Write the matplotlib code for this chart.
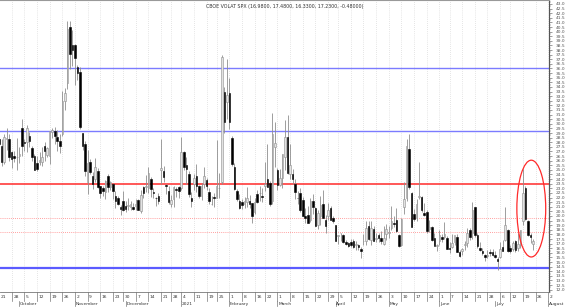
import numpy as np
import pandas as pd
import matplotlib
matplotlib.use('Agg')
import matplotlib.pyplot as plt
from matplotlib.patches import Ellipse

# trading days (weekends and market holidays skipped)
holidays = ['2020-11-26', '2020-12-25', '2021-01-01', '2021-01-18',
            '2021-02-15', '2021-04-02', '2021-05-31', '2021-07-05']
dates = [d for d in pd.bdate_range('2020-09-21', '2021-07-23')
         if d.strftime('%Y-%m-%d') not in holidays]
# empty weeks shown at the right end of the axis
extra_weeks = ['2021-07-26', '2021-08-02']

# daily OHLC
opens = [28.4, 27.6, 25.9, 28.4, 28.4, 26.9, 26.5, 26.4, 26.5, 29.5,
         28.0, 28.0, 28.7, 27.4, 26.5, 25.7, 25.9, 25.8, 27.6, 26.6,
         26.5, 29.1, 29.2, 28.6, 28.1, 28.9, 32.5, 34.4, 40.5, 38.5,
         38.5, 36.2, 35.6, 29.0, 27.8, 23.7, 25.9, 24.3, 24.0, 24.9,
         23.3, 23.0, 22.6, 24.3, 23.1, 23.5, 22.2, 21.9, 21.0, 21.6,
         21.1, 21.1, 21.0, 21.0, 21.1, 21.7, 20.5, 23.1, 23.1, 23.0,
         24.0, 22.6, 22.0, 22.2, 25.0, 24.9, 23.4, 22.7, 21.3, 21.8,
         22.9, 23.1, 23.0, 26.9, 25.5, 24.6, 22.0, 23.5, 24.3, 23.3,
         22.2, 23.5, 23.9, 22.6, 21.3, 22.1, 22.0, 23.0, 23.7, 33.5,
         32.4, 33.3, 28.5, 25.3, 22.7, 21.6, 21.5, 21.3, 21.5, 21.6,
         21.4, 20.4, 22.4, 22.5, 22.2, 23.3, 24.0, 23.6, 21.6, 27.5,
         25.0, 23.4, 24.1, 26.4, 28.6, 24.5, 24.5, 23.5, 22.0, 22.5,
         21.7, 20.0, 20.1, 19.6, 21.6, 20.9, 19.0, 20.0, 21.3, 19.6,
         20.0, 20.9, 19.8, 19.0, 17.8, 18.1, 17.9, 17.2, 17.1, 17.2,
         17.3, 16.9, 16.8, 16.4, 17.3, 17.3, 18.9, 17.4, 18.6, 17.5,
         17.9, 17.6, 17.0, 18.0, 18.1, 18.7, 19.2, 19.6, 17.9, 16.9,
         21.0, 22.0, 27.3, 22.5, 20.2, 19.8, 22.1, 22.1, 20.3, 20.4,
         18.6, 18.8, 17.6, 16.7, 17.3, 17.7, 17.7, 17.6, 16.5, 16.6,
         17.2, 17.7, 16.1, 16.2, 16.8, 17.1, 18.5, 18.1, 21.0, 17.9,
         16.5, 16.2, 15.8, 15.7, 16.1, 16.1, 15.8, 15.3, 15.5, 16.6,
         17.4, 18.5, 16.5, 16.4, 17.3, 16.5, 16.8, 19.5, 23.0, 19.5,
         17.9, 16.98]
highs = [31.6, 28.3, 28.9, 29.5, 28.9, 27.0, 27.0, 28.5, 27.5, 30.5,
         28.3, 29.9, 29.1, 27.6, 26.7, 26.5, 26.9, 27.5, 28.0, 27.5,
         29.2, 29.5, 29.6, 29.3, 28.9, 33.6, 33.9, 41.2, 41.1, 40.2,
         38.7, 36.4, 36.2, 29.0, 28.1, 27.2, 26.2, 24.8, 26.3, 25.2,
         23.3, 23.3, 23.9, 24.6, 23.8, 23.6, 22.7, 22.2, 21.2, 22.7,
         21.6, 22.0, 21.6, 21.4, 21.8, 21.8, 22.8, 23.2, 24.4, 25.3,
         24.2, 23.0, 22.1, 22.5, 28.4, 25.4, 23.5, 23.3, 22.3, 23.3,
         23.1, 23.2, 28.6, 27.1, 26.4, 24.9, 22.6, 24.6, 25.6, 23.4,
         23.6, 25.3, 24.1, 23.0, 22.2, 22.5, 28.2, 24.7, 37.5, 34.0,
         37.0, 35.0, 28.7, 25.7, 22.9, 22.4, 21.8, 22.1, 23.1, 22.3,
         21.4, 22.0, 22.8, 23.3, 23.0, 25.9, 27.8, 23.8, 31.2, 30.2,
         25.2, 25.1, 26.7, 30.4, 31.0, 27.8, 25.1, 24.0, 22.7, 23.0,
         22.1, 20.9, 21.1, 22.0, 22.4, 21.0, 20.7, 22.2, 22.8, 20.1,
         21.4, 21.1, 20.0, 19.0, 17.9, 18.2, 18.0, 17.4, 17.2, 17.5,
         17.5, 17.3, 17.0, 16.6, 18.0, 19.4, 19.4, 19.4, 18.9, 18.2,
         18.1, 18.4, 18.9, 19.1, 18.9, 21.1, 20.0, 20.9, 18.0, 19.8,
         23.7, 28.4, 28.9, 22.6, 20.8, 21.8, 25.9, 22.2, 21.4, 20.6,
         19.6, 18.9, 18.2, 17.0, 18.5, 18.0, 19.3, 17.8, 17.2, 18.0,
         17.7, 18.0, 16.3, 16.5, 17.3, 18.7, 18.7, 21.5, 21.0, 18.1,
         17.2, 16.5, 15.9, 16.3, 16.4, 16.4, 16.2, 15.5, 17.2, 17.4,
         21.0, 18.6, 16.9, 17.3, 17.4, 18.1, 18.5, 25.1, 23.2, 19.6,
         18.1, 17.48]
lows = [27.5, 25.4, 25.6, 27.2, 26.0, 25.2, 25.9, 25.0, 25.7, 26.5,
        27.0, 26.9, 27.5, 26.0, 25.0, 24.9, 25.5, 25.4, 26.0, 26.4,
        25.6, 28.5, 27.8, 27.0, 26.8, 28.7, 31.5, 33.8, 35.9, 36.3,
        34.2, 34.8, 29.4, 27.2, 24.3, 22.4, 24.6, 22.9, 23.7, 23.0,
        21.9, 22.2, 21.8, 22.6, 22.8, 21.8, 20.9, 21.2, 20.1, 20.5,
        20.4, 20.6, 20.6, 20.6, 20.6, 20.6, 20.3, 22.0, 22.6, 22.5,
        22.1, 22.0, 21.1, 21.3, 23.5, 23.7, 22.4, 21.3, 21.0, 21.0,
        22.1, 22.0, 22.8, 25.0, 23.5, 22.1, 21.0, 22.8, 22.6, 22.0,
        21.7, 23.0, 22.8, 21.3, 21.2, 21.0, 22.0, 22.0, 23.5, 29.0,
        30.5, 29.4, 25.4, 22.8, 21.6, 20.8, 20.8, 20.9, 21.0, 20.9,
        19.2, 20.2, 21.4, 21.6, 21.5, 22.7, 23.1, 21.1, 21.3, 25.3,
        22.8, 23.2, 23.0, 25.0, 24.5, 24.0, 23.5, 21.8, 21.3, 20.4,
        20.0, 19.2, 19.2, 19.3, 20.2, 18.9, 18.6, 19.0, 19.8, 18.1,
        19.6, 19.6, 19.2, 17.3, 17.0, 17.3, 17.1, 16.9, 16.6, 16.6,
        16.5, 16.3, 16.3, 15.4, 16.9, 16.9, 17.4, 16.8, 17.3, 17.2,
        17.2, 17.0, 16.8, 17.4, 17.6, 18.5, 18.8, 18.3, 16.6, 16.7,
        20.2, 21.6, 22.9, 18.8, 19.5, 19.4, 21.8, 20.4, 20.0, 18.2,
        18.3, 17.3, 16.9, 16.2, 16.9, 17.2, 17.5, 16.4, 16.0, 16.5,
        16.8, 16.1, 15.6, 15.8, 16.3, 16.6, 17.4, 17.5, 17.7, 16.5,
        16.2, 15.8, 15.1, 15.4, 15.7, 15.7, 15.4, 14.1, 15.4, 16.2,
        17.3, 16.1, 16.0, 16.2, 16.1, 16.2, 16.5, 19.0, 19.6, 17.8,
        17.1, 16.33]
closes = [27.8, 25.8, 28.6, 28.5, 26.4, 26.2, 26.3, 26.4, 26.7, 27.6,
          27.96, 29.5, 28.1, 26.4, 25.0, 25.1, 26.1, 26.4, 27.0, 27.4,
          29.2, 29.35, 28.65, 28.1, 27.55, 32.5, 33.35, 40.3, 37.6, 38.0,
          37.1, 35.55, 29.6, 27.6, 24.9, 25.75, 24.8, 23.45, 25.35, 23.1,
          22.45, 22.7, 23.8, 23.1, 23.7, 22.7, 21.6, 21.25, 20.8, 20.6,
          20.8, 21.2, 21.3, 20.8, 21.3, 20.7, 22.3, 22.5, 23.3, 24.7,
          22.9, 22.5, 21.9, 21.6, 25.2, 24.2, 23.3, 21.5, 21.7, 23.1,
          22.8, 22.75, 26.97, 25.3, 25.1, 22.4, 21.6, 24.1, 23.3, 22.2,
          23.25, 24.3, 23.2, 21.6, 21.3, 21.9, 23.2, 23.0, 37.2, 30.2,
          33.1, 30.2, 25.6, 22.9, 21.8, 20.9, 21.2, 21.6, 22.0, 21.25,
          20.0, 21.5, 21.5, 22.5, 22.05, 23.45, 23.1, 21.3, 28.9, 27.95,
          23.35, 24.1, 26.7, 28.6, 24.7, 25.5, 24.0, 22.6, 21.9, 20.7,
          20.0, 19.8, 19.2, 21.6, 20.95, 18.9, 20.3, 21.2, 19.8, 18.9,
          20.7, 19.6, 19.4, 17.3, 17.9, 18.1, 17.2, 16.95, 16.7, 16.9,
          16.65, 17.0, 16.6, 16.25, 17.3, 18.7, 17.5, 18.7, 17.3, 17.6,
          17.6, 17.3, 17.6, 18.6, 18.3, 19.5, 19.15, 18.4, 16.7, 19.7,
          21.8, 27.6, 23.1, 18.8, 19.7, 21.3, 22.2, 20.7, 20.15, 18.4,
          18.8, 17.4, 16.7, 16.8, 17.9, 17.5, 18.0, 16.4, 16.4, 17.1,
          17.9, 16.1, 15.65, 16.4, 17.0, 18.15, 17.75, 20.7, 17.9, 16.7,
          16.3, 15.97, 15.6, 15.8, 16.0, 15.8, 15.5, 15.1, 16.4, 16.2,
          19.0, 16.2, 16.2, 17.1, 16.3, 17.0, 18.45, 22.5, 19.7, 17.9,
          17.7, 17.23]

title = 'CBOE VOLAT SPX (16.9800, 17.4800, 16.3300, 17.2300, -0.48000)'
blue_levels = [36.0, 29.25]
blue_low = 14.3
red_level = 23.5
red_dotted = [19.8, 18.3]

n = len(dates)
x = np.arange(n)
o = np.array(opens); h = np.array(highs); l = np.array(lows); c = np.array(closes)
up = c >= o

fig = plt.figure(figsize=(5.8, 3.07), dpi=100)
ax = fig.add_axes([0, 1 - 292 / 307, 549 / 580, 292 / 307])
ax.set_xlim(0.38, 217.3)
ax.set_ylim(11.78, 43.43)

# first trading day of each week (+ the empty weeks on the right)
week_pos = [i for i in range(n) if i == 0 or dates[i].weekday() < dates[i - 1].weekday()]
week_dates = [dates[i] for i in week_pos]
for k, d in enumerate(extra_weeks):
    week_pos.append(n + 5 * k)
    week_dates.append(pd.Timestamp(d))

for ws in week_pos:
    ax.axvline(ws, color='#cccccc', lw=0.5, ls=(0, (1, 2)), zorder=0)

# levels
for lv in blue_levels:
    ax.axhline(lv, color='#7b7bff', lw=1.0, zorder=1)
ax.axhline(blue_low, color='#5b5bff', lw=1.6, zorder=1)
ax.axhline(red_level, color='#ff2a2a', lw=1.1, zorder=1)
for lv in red_dotted:
    ax.axhline(lv, color='#ff8080', lw=0.6, ls=(0, (1, 1.5)), zorder=1)

# candles
ax.vlines(x, l, h, color='#8e8e8e', lw=0.6, zorder=2)
ax.bar(x[up], (c - o)[up], bottom=o[up], width=0.62, color='#e2e2e2',
       edgecolor='#8e8e8e', lw=0.4, zorder=3)
ax.bar(x[~up], (o - c)[~up], bottom=c[~up], width=0.62, color='black',
       edgecolor='black', lw=0.4, zorder=3)

ax.add_patch(Ellipse((210.3, 20.8), 11.4, 10.5, fill=False, ec='#ff2a2a', lw=0.9, zorder=4))

ax.text(0.376, 0.985, title, transform=ax.transAxes, fontsize=3.4, color='#333333',
        ha='left', va='top')

# y axis on the right
for s in ['left', 'bottom']:
    ax.spines[s].set_visible(False)
ax.spines['top'].set_color('#999999')
ax.spines['right'].set_color('#555555')
ax.spines['right'].set_linewidth(0.8)
ax.yaxis.tick_right()
ax.set_yticks(np.arange(12.0, 43.01, 0.5))
ax.set_yticks(np.arange(11.75, 43.4, 0.25), minor=True)
ax.tick_params(axis='y', which='major', labelsize=3.2, length=2, width=0.4,
               colors='#555555', pad=3)
ax.tick_params(axis='y', which='minor', length=1.2, width=0.3, colors='#555555')
ax.yaxis.set_major_formatter(matplotlib.ticker.FormatStrFormatter('%.1f'))

# date axis drawn by hand: day row + month row
ax.set_xticks([])
trans = ax.get_xaxis_transform()
fig.add_artist(matplotlib.lines.Line2D([0, 549 / 580], [1 - 292 / 307] * 2,
                                       transform=fig.transFigure, color='#777777', lw=0.6))
for i, d in zip(week_pos, week_dates):
    ax.plot([i, i], [0, -0.03], transform=trans, color='#777777', lw=0.5, clip_on=False)
    ax.text(i + 0.6, -0.0175, str(d.day), transform=trans, fontsize=3.2, color='#333333',
            ha='left', va='center', clip_on=False)

month_pos = [i for i in range(1, n) if dates[i].month != dates[i - 1].month]
month_names = [dates[i].strftime('%B') if dates[i].month != 1 else str(dates[i].year)
               for i in month_pos]
month_pos.append(week_pos[-1])
month_names.append('August')
for i, name in zip(month_pos, month_names):
    ax.plot([i, i], [-0.03, -0.048], transform=trans, color='#777777', lw=0.5, clip_on=False)
    ax.text(i + 0.3, -0.042, name, transform=trans, fontsize=3.2, color='#333333',
            ha='left', va='center', clip_on=False)

fig.savefig('out.png', dpi=100)
